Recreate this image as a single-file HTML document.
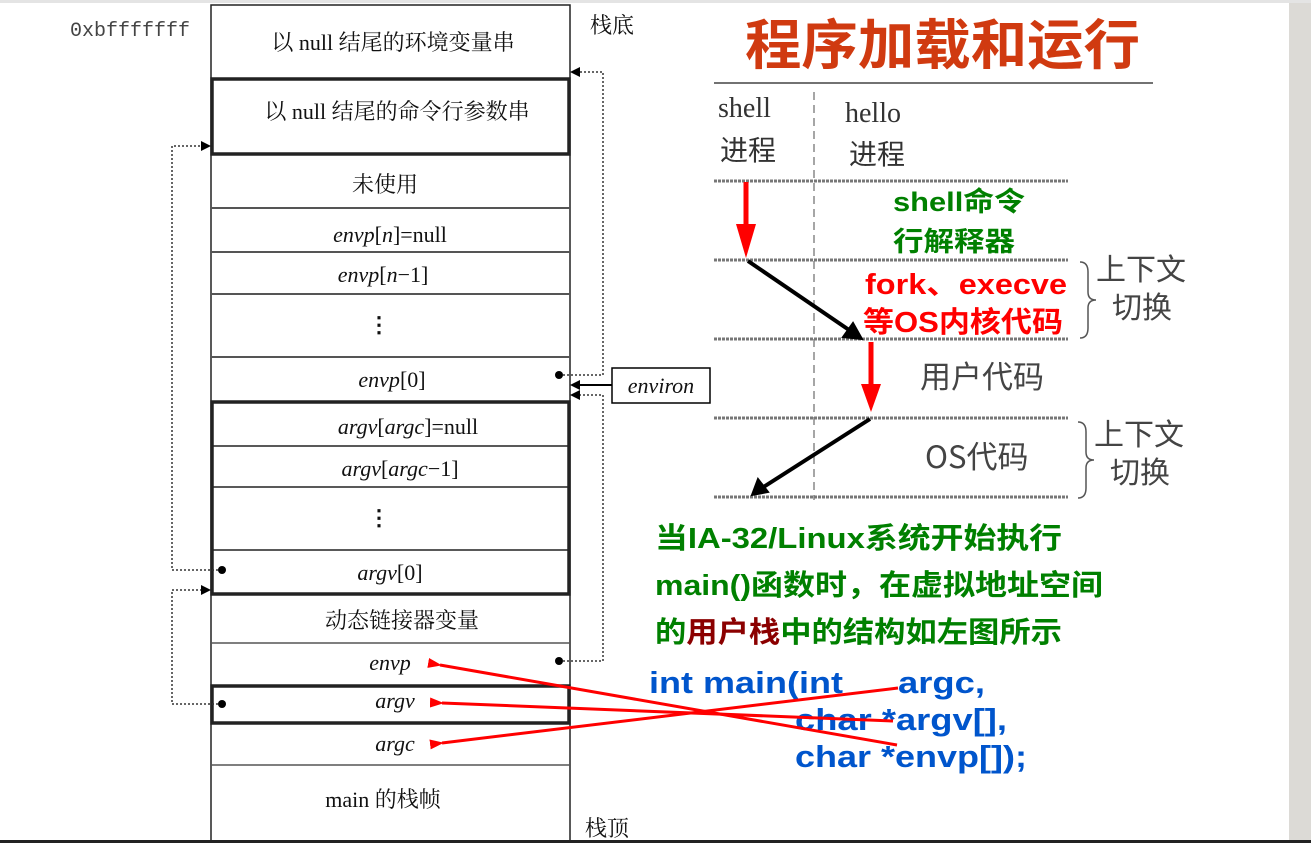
<!DOCTYPE html>
<html><head><meta charset="utf-8"><style>
html,body{margin:0;padding:0;background:#fff;}
svg{display:block;}
.s{font-family:"Liberation Serif","Noto Serif CJK SC",serif;font-size:22px;fill:#111;}
.i{font-style:italic;}
.b{font-family:"Liberation Sans","Noto Sans CJK SC",sans-serif;font-weight:bold;}
</style></head><body>
<svg width="1311" height="843" viewBox="0 0 1311 843" xmlns="http://www.w3.org/2000/svg">
<defs>
<marker id="ar" markerWidth="14" markerHeight="10" refX="2" refY="5" orient="auto-start-reverse" markerUnits="userSpaceOnUse"><path d="M14,0 L0,5 L14,10 z" fill="#f00"/></marker>
</defs>
<rect x="0" y="0" width="1311" height="3" fill="#e4e4e4"/>
<rect x="1289" y="3" width="22" height="840" fill="#dcdad6"/>
<rect x="0" y="840" width="1311" height="3" fill="#222"/>

<g fill="none" stroke="#222">
<rect x="211" y="5" width="359" height="840" stroke-width="1.5"/>
<line x1="211" y1="208" x2="570" y2="208" stroke="#555" stroke-width="2"/>
<line x1="211" y1="252" x2="570" y2="252" stroke="#555" stroke-width="2"/>
<line x1="211" y1="294" x2="570" y2="294" stroke="#555" stroke-width="2"/>
<line x1="211" y1="357" x2="570" y2="357" stroke="#555" stroke-width="2"/>
<line x1="211" y1="446" x2="570" y2="446" stroke-width="1.5"/>
<line x1="211" y1="487" x2="570" y2="487" stroke-width="1.5"/>
<line x1="211" y1="550" x2="570" y2="550" stroke-width="1.5"/>
<line x1="211" y1="643" x2="570" y2="643" stroke="#555" stroke-width="1.5"/>
<line x1="211" y1="765" x2="570" y2="765" stroke="#555" stroke-width="1.5"/>
<rect x="212" y="79" width="357" height="75" stroke-width="3.5"/>
<rect x="212" y="402" width="357" height="192" stroke-width="3.5"/>
<rect x="212" y="686" width="357" height="37" stroke-width="3.5"/>
</g>
<text x="70" y="36" font-family="Liberation Mono,monospace" font-size="20" fill="#444">0xbfffffff</text>
<text class="s" x="393" y="50" text-anchor="middle">以 null 结尾的环境变量串</text>
<text class="s" x="397" y="119" text-anchor="middle">以 null 结尾的命令行参数串</text>
<text class="s" x="385" y="192" text-anchor="middle">未使用</text>
<text class="s" x="390" y="242" text-anchor="middle"><tspan class="i">envp</tspan>[<tspan class="i">n</tspan>]=null</text>
<text class="s" x="383" y="282" text-anchor="middle"><tspan class="i">envp</tspan>[<tspan class="i">n</tspan>−1]</text>
<text class="s" x="379" y="332" text-anchor="middle" font-weight="bold">⋮</text>
<text class="s" x="392" y="387" text-anchor="middle"><tspan class="i">envp</tspan>[0]</text>
<text class="s" x="408" y="434" text-anchor="middle"><tspan class="i">argv</tspan>[<tspan class="i">argc</tspan>]=null</text>
<text class="s" x="400" y="476" text-anchor="middle"><tspan class="i">argv</tspan>[<tspan class="i">argc</tspan>−1]</text>
<text class="s" x="379" y="525" text-anchor="middle" font-weight="bold">⋮</text>
<text class="s" x="390" y="580" text-anchor="middle"><tspan class="i">argv</tspan>[0]</text>
<text class="s" x="402" y="628" text-anchor="middle">动态链接器变量</text>
<text class="s i" x="390" y="670" text-anchor="middle">envp</text>
<text class="s i" x="395" y="708" text-anchor="middle">argv</text>
<text class="s i" x="395" y="751" text-anchor="middle">argc</text>
<text class="s" x="383" y="807" text-anchor="middle">main 的栈帧</text>
<text class="s" x="590" y="33" font-family="Noto Sans CJK SC,sans-serif" font-size="21" fill="#333">栈底</text>
<text class="s" x="585" y="836" font-family="Noto Sans CJK SC,sans-serif" font-size="21" fill="#333">栈顶</text>

<g fill="none" stroke="#333" stroke-width="1.5" stroke-dasharray="2,2">
<polyline points="563,375 603,375 603,72 578,72"/>
<polyline points="563,661 603,661 603,395 578,395"/>
<polyline points="218,570 172,570 172,146 203,146"/>
<polyline points="218,704 172,704 172,590 203,590"/>
</g>
<g fill="#000">
<path d="M570,72 l10,-5 v10z"/><path d="M570,395 l10,-5 v10z"/>
<path d="M211,146 l-10,-5 v10z"/><path d="M211,590 l-10,-5 v10z"/>
<circle cx="559" cy="375" r="4"/><circle cx="559" cy="661" r="4"/>
<circle cx="222" cy="570" r="4"/><circle cx="222" cy="704" r="4"/>
<path d="M570,385 l10,-5 v10z"/>
</g>
<line x1="578" y1="385" x2="612" y2="385" stroke="#000" stroke-width="2"/>
<rect x="612" y="368" width="98" height="35" fill="#fff" stroke="#000" stroke-width="1.5"/>
<text class="s i" x="661" y="393" text-anchor="middle" font-size="24">environ</text>

<text x="745" y="64" textLength="395" lengthAdjust="spacingAndGlyphs" font-family="Liberation Sans,Noto Sans CJK SC,sans-serif" font-size="54" font-weight="bold" fill="#d03a10">程序加载和运行</text>
<line x1="714" y1="83" x2="1153" y2="83" stroke="#444" stroke-width="1.5"/>

<text x="718" y="117" font-family="Liberation Serif,serif" font-size="28" fill="#333">shell</text>
<text x="720" y="160" font-family="Noto Sans CJK SC,sans-serif" font-size="28" fill="#333">进程</text>
<text x="845" y="122" font-family="Liberation Serif,serif" font-size="28" fill="#333">hello</text>
<text x="849" y="164" font-family="Noto Sans CJK SC,sans-serif" font-size="28" fill="#333">进程</text>
<line x1="814" y1="92" x2="814" y2="500" stroke="#888" stroke-width="1.5" stroke-dasharray="8,5"/>
<g stroke="#777" stroke-width="3" stroke-dasharray="3,1">
<line x1="714" y1="181" x2="1068" y2="181"/>
<line x1="714" y1="260" x2="1068" y2="260"/>
<line x1="714" y1="339" x2="1068" y2="339"/>
<line x1="714" y1="418" x2="1068" y2="418"/>
<line x1="714" y1="497" x2="1068" y2="497"/>
</g>
<line x1="746" y1="182" x2="746" y2="230" stroke="#f00" stroke-width="5"/>
<path d="M736,224 L756,224 L746,258 z" fill="#f00"/>
<line x1="871" y1="342" x2="871" y2="390" stroke="#f00" stroke-width="5"/>
<path d="M861,384 L881,384 L871,412 z" fill="#f00"/>
<line x1="748" y1="261" x2="852" y2="332" stroke="#000" stroke-width="4"/>
<path d="M862,339 L843,337 L853,323 z" fill="#000" stroke="#000" stroke-width="2"/>
<line x1="870" y1="419" x2="762" y2="488" stroke="#000" stroke-width="4"/>
<path d="M752,495 L758,479 L768,492 z" fill="#000" stroke="#000" stroke-width="2"/>
<rect x="890" y="185" width="140" height="73" fill="#fff"/>
<text class="b" x="893" y="211" font-size="27" textLength="132" lengthAdjust="spacingAndGlyphs" fill="#008000">shell命令</text>
<text class="b" x="893" y="251" font-size="27" textLength="122" lengthAdjust="spacingAndGlyphs" fill="#008000">行解释器</text>
<rect x="862" y="263" width="206" height="74" fill="#fff"/>
<text class="b" x="865" y="294" font-size="29" textLength="202" lengthAdjust="spacingAndGlyphs" fill="#f00">fork、execve</text>
<text class="b" x="863" y="332" font-size="29" textLength="200" lengthAdjust="spacingAndGlyphs" fill="#f00">等OS内核代码</text>
<text x="920" y="388" font-family="Noto Sans CJK SC,sans-serif" font-size="31" fill="#444">用户代码</text>
<text x="925" y="468" font-family="Noto Sans CJK SC,sans-serif" font-size="31" fill="#444">OS代码</text>
<g fill="none" stroke="#555" stroke-width="1.5">
<path d="M1080,262 q8,0 8,10 v20 q0,8 8,8 q-8,0 -8,8 v20 q0,10 -8,10"/>
<path d="M1078,422 q8,0 8,10 v20 q0,8 8,8 q-8,0 -8,8 v20 q0,10 -8,10"/>
</g>
<g font-family="Noto Sans CJK SC,sans-serif" font-size="30" fill="#444">
<text x="1096" y="280">上下文</text><text x="1112" y="318">切换</text>
<text x="1094" y="445">上下文</text><text x="1110" y="483">切换</text>
</g>

<g class="b" font-size="29" fill="#008000">
<text x="655" y="548" textLength="407" lengthAdjust="spacingAndGlyphs">当IA-32/Linux系统开始执行</text>
<text x="655" y="595" textLength="448" lengthAdjust="spacingAndGlyphs">main()函数时，在虚拟地址空间</text>
<text x="655" y="642" textLength="407" lengthAdjust="spacingAndGlyphs">的<tspan fill="#8b0000">用户栈</tspan>中的结构如左图所示</text>
</g>
<g class="b" font-size="31" fill="#0055cc">
<text x="649" y="693" textLength="194" lengthAdjust="spacingAndGlyphs">int main(int</text>
<text x="898" y="693" textLength="87" lengthAdjust="spacingAndGlyphs">argc,</text>
<text x="795" y="730" textLength="212" lengthAdjust="spacingAndGlyphs">char *argv[],</text>
<text x="795" y="767" textLength="232" lengthAdjust="spacingAndGlyphs">char *envp[]);</text>
</g>
<g stroke="#f00" stroke-width="3" fill="none">
<line x1="440" y1="665" x2="897" y2="745" marker-start="url(#ar)"/>
<line x1="442" y1="703" x2="893" y2="721" marker-start="url(#ar)"/>
<line x1="442" y1="743" x2="898" y2="688" marker-start="url(#ar)"/>
</g>
</svg>
</body></html>
